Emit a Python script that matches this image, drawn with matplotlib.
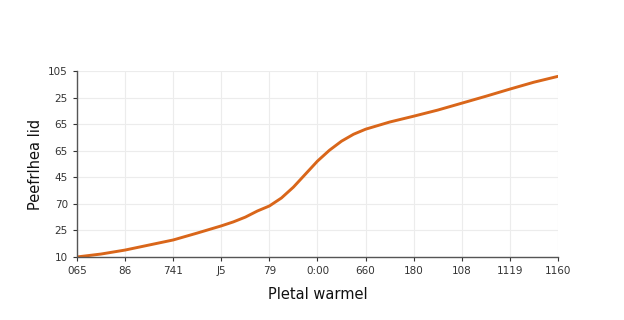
import matplotlib.pyplot as plt

# tick labels as printed on the chart
x_labels = ["065", "86", "741", "J5", "79", "0:00", "660", "180", "108", "1119", "1160"]
y_labels = ["10", "25", "70", "45", "65", "65", "25", "105"]

# curve (positions in tick units)
curve_x = [0, 0.5, 1, 1.5, 2, 2.5, 3, 3.25, 3.5, 3.75, 4, 4.25, 4.5, 4.75,
           5, 5.25, 5.5, 5.75, 6, 6.5, 7, 7.5, 8, 8.5, 9, 9.5, 10]
curve_y = [0, 0.11, 0.26, 0.45, 0.64, 0.90, 1.17, 1.32, 1.50, 1.73, 1.92, 2.22, 2.63, 3.12,
           3.61, 4.02, 4.36, 4.62, 4.81, 5.08, 5.30, 5.53, 5.79, 6.05, 6.32, 6.58, 6.80]


def main():
    fig = plt.figure(figsize=(6.24, 3.2), dpi=100)
    ax = fig.add_axes([0.1234, 0.197, 0.7708, 0.581])

    ax.plot(curve_x, curve_y, color="#d9661a", linewidth=2.1,
            solid_capstyle="round", solid_joinstyle="round")

    ax.set_xlim(0, 10)
    ax.set_ylim(0, 7)
    ax.set_xticks(range(len(x_labels)))
    ax.set_xticklabels(x_labels)
    ax.set_yticks(range(len(y_labels)))
    ax.set_yticklabels(y_labels)

    ax.grid(True, color="#ececec", linewidth=0.8)
    ax.set_axisbelow(True)
    for side in ["top", "right"]:
        ax.spines[side].set_visible(False)
    for side in ["left", "bottom"]:
        ax.spines[side].set_color("#555555")
        ax.spines[side].set_linewidth(1.0)
    ax.tick_params(axis="both", labelsize=7.5, colors="#333333", length=3, width=0.8)

    ax.set_xlabel("Pletal warmel", fontsize=10.5, color="#111111", labelpad=8)
    ax.set_ylabel("Peefrlhea lid", fontsize=10.5, color="#111111", labelpad=4)

    fig.savefig("out.png", dpi=100)


if __name__ == "__main__":
    main()
